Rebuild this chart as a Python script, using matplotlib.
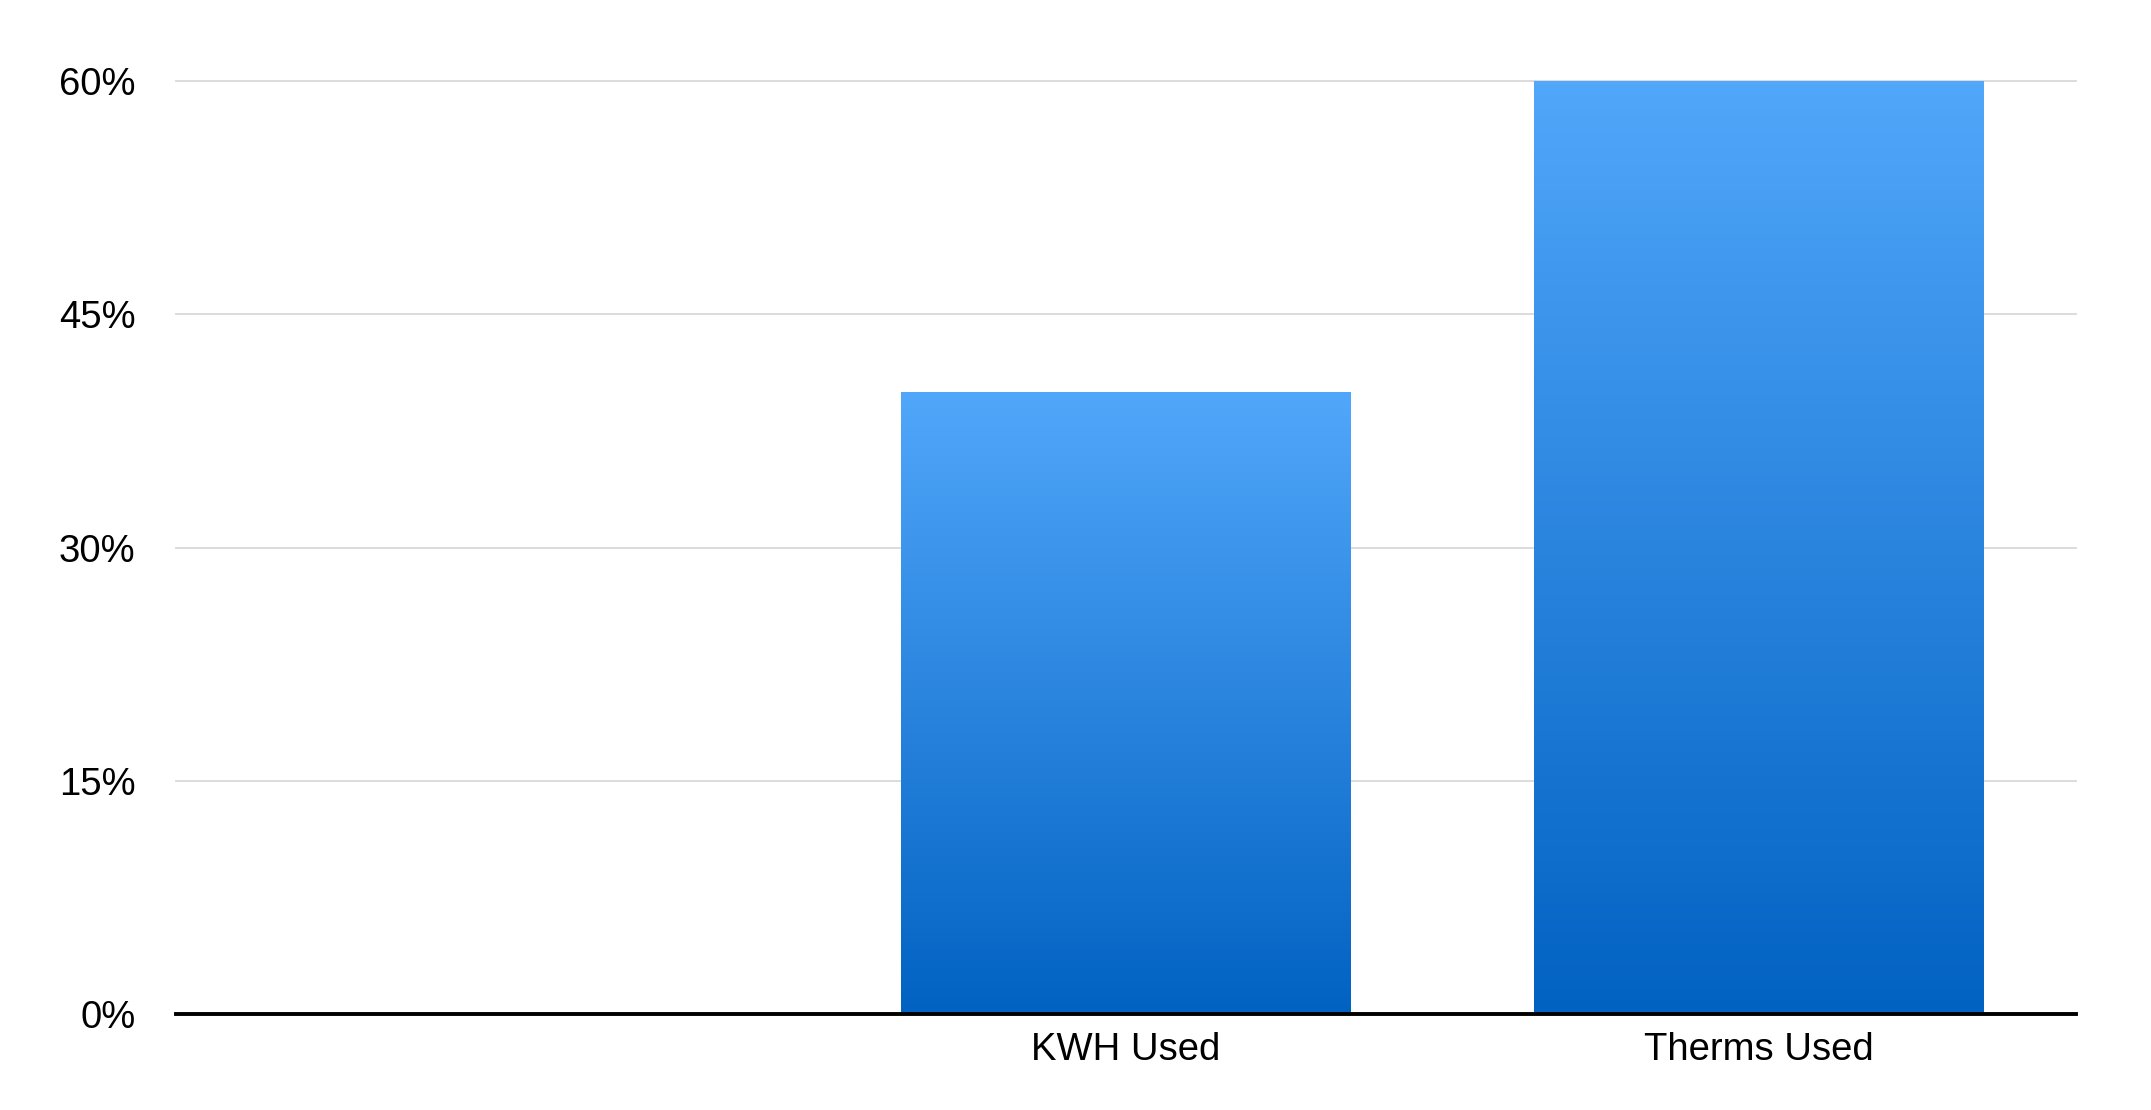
import matplotlib.pyplot as plt
import numpy as np
from matplotlib.colors import LinearSegmentedColormap

# Data
categories = ['', 'KWH Used', 'Therms Used']
values = [0, 40, 60]
yticks = [0, 15, 30, 45, 60]

plt.rcParams['font.family'] = ['Liberation Sans', 'DejaVu Sans']

fig = plt.figure(figsize=(21.51, 11.10), dpi=100)
ax = fig.add_axes([0.0818, 0.0865, 0.8833, 0.8405])

x = np.arange(len(categories))
bar_width = 0.71
bars = ax.bar(x, values, width=bar_width, color='none', edgecolor='none')

# vertical gradient per bar, light on top, dark at bottom
cmap = LinearSegmentedColormap.from_list('blue_grad', ['#0262c2', '#51a7fa'])
grad = np.linspace(0, 1, 256).reshape(-1, 1)
for bar in bars:
    h = bar.get_height()
    if h <= 0:
        continue
    x0 = bar.get_x()
    im = ax.imshow(grad, cmap=cmap, origin='lower', aspect='auto',
                   extent=[x0, x0 + bar.get_width(), 0, h], zorder=2)
    im.set_clip_path(bar)
    im.set_clip_on(False)

ax.set_xlim(-0.5, len(categories) - 0.5)
ax.set_ylim(0, 60)
ax.set_xticks(x)
ax.set_xticklabels(categories)
ax.set_yticks(yticks)
ax.set_yticklabels([f'{v}%' for v in yticks])

ax.tick_params(axis='both', length=0, labelsize=27.5, colors='black')
ax.tick_params(axis='y', pad=29)
ax.tick_params(axis='x', pad=13)

for spine in ['top', 'right', 'left']:
    ax.spines[spine].set_visible(False)
ax.spines['bottom'].set_linewidth(2.8)
ax.spines['bottom'].set_color('black')
ax.spines['bottom'].set_zorder(5)

ax.yaxis.grid(True, color='#d9d9d9', linewidth=1.3)
ax.set_axisbelow(True)
for line in ax.get_ygridlines():
    line.set_clip_on(False)

fig.savefig('out.png', dpi=100, facecolor='white')
